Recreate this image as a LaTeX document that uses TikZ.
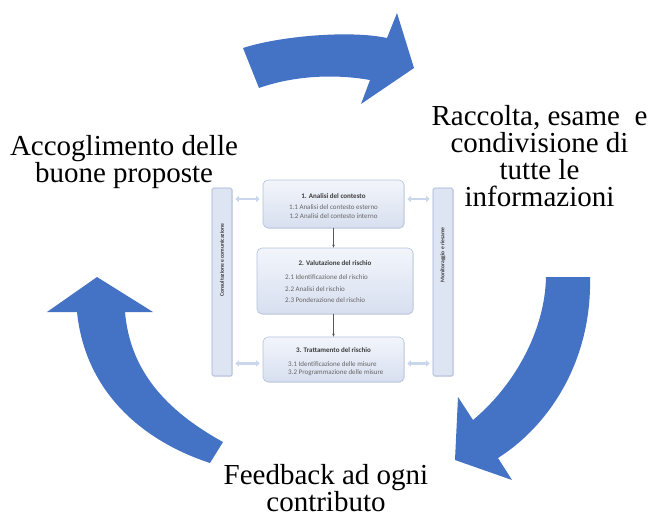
\documentclass[tikz,border=0pt]{standalone}
\usepackage{fontspec}
\setmainfont{Liberation Serif}
\newfontfamily\carlito{Carlito}
\usetikzlibrary{arrows.meta,calc,shadows}
\definecolor{arrowblue}{HTML}{4472C4}
\definecolor{boxtop}{HTML}{F2F5FB}
\definecolor{boxbot}{HTML}{D7DFEF}
\definecolor{boxedge}{HTML}{B3C2DD}
\definecolor{barfill}{HTML}{DDE4F2}
\definecolor{baredge}{HTML}{9DB0D3}
\definecolor{dblcol}{HTML}{C9D6EC}
\definecolor{titlegray}{HTML}{3C3C3C}
\definecolor{linegray}{HTML}{666666}
\begin{document}
\begin{tikzpicture}[x=1pt,y=-1pt,
  bluearrow/.style={fill=arrowblue, draw=none},
  mainlabel/.style={font=\fontsize{29}{27}\selectfont, align=center, inner sep=0pt, text=black},
  stagebox/.style={draw=boxedge, line width=0.6pt, rounded corners=5pt, top color=boxtop, bottom color=boxbot, inner sep=0pt,
    drop shadow={opacity=0.18, shadow xshift=0.8pt, shadow yshift=-0.8pt}},
  sidebar/.style={draw=baredge, line width=0.6pt, rounded corners=1.5pt, fill=barfill, inner sep=0pt,
    drop shadow={opacity=0.18, shadow xshift=0.8pt, shadow yshift=-0.8pt}},
  boxtitle/.style={font=\carlito\bfseries\fontsize{7}{8}\selectfont, text=titlegray, inner sep=0pt},
  boxline/.style={font=\carlito\fontsize{7}{8}\selectfont, text=linegray, inner sep=0pt},
  bartext/.style={font=\carlito\bfseries\fontsize{5.6}{6}\selectfont, text=titlegray, inner sep=0pt, rotate=90},
  steparrow/.style={draw=gray!70!black, line width=0.6pt, -{Stealth[length=3pt,width=2.6pt]}},
  dblarrow/.style={draw=dblcol, line width=2.2pt, {Triangle[length=3.5pt,width=6pt]}-{Triangle[length=3.5pt,width=6pt]}, shorten <=3pt, shorten >=3pt}
]
\useasboundingbox (0,0) rectangle (651,517);

% --- big curved arrows ---
\fill[bluearrow] (243,48) .. controls (280,36) and (350,30) .. (387,38)
  -- (397,13) -- (414,68) -- (361,104) -- (370,80)
  .. controls (330,73) and (290,77) .. (259,88) -- cycle;
\fill[bluearrow] (546,277) -- (590,277) .. controls (592,360) and (550,425) .. (498,458)
  -- (512,480) -- (455,460) -- (458,397) -- (473,420)
  .. controls (515,385) and (545,330) .. (546,277) -- cycle;
\fill[bluearrow] (223,442) .. controls (165,410) and (130,370) .. (125,312)
  -- (153,312) -- (97,277) -- (47,312) -- (77,312)
  .. controls (85,390) and (140,440) .. (210,463) -- cycle;

% --- labels ---
\node[mainlabel] (lblL) at (124,162.5) {Accoglimento delle\\buone proposte};
\node[mainlabel] (lblR) at (539.5,156.5) {Raccolta, esame\ \ e\\condivisione di\\tutte le\\informazioni};
\node[mainlabel] (lblB) at (326,488.5) {Feedback ad ogni\\contributo};

% --- central scheme ---
\node[sidebar, minimum width=20, minimum height=188] (lb) at (222,282) {};
\node[sidebar, minimum width=20, minimum height=188] (rb) at (443,282) {};
\node[bartext] (lbt) at ($(lb.center)+(0,-22)$) {Consultazione e comunicazione};
\node[bartext] (rbt) at ($(rb.center)+(0,-27)$) {Monitoraggio e riesame};

\node[stagebox, minimum width=141, minimum height=48] (b1) at (333.5,204) {};
\node[stagebox, minimum width=156, minimum height=66] (b2) at (335,281) {};
\node[stagebox, minimum width=141, minimum height=45] (b3) at (333.5,359.5) {};

\node[boxtitle] (t1) at (333.5,196) {1. Analisi del contesto};
\node[boxline] (l11) at (333.5,207) {1.1 Analisi del contesto esterno};
\node[boxline] (l12) at (333.5,216) {1.2 Analisi del contesto interno};

\node[boxtitle] (t2) at (335,263) {2. Valutazione del rischio};
\node[boxline, anchor=west] (l21) at (285,277) {2.1 Identificazione del rischio};
\node[boxline, anchor=west] (l22) at (285,289) {2.2 Analisi del rischio};
\node[boxline, anchor=west] (l23) at (285,300) {2.3 Ponderazione del rischio};

\node[boxtitle] (t3) at (333.5,350) {3. Trattamento del rischio};
\node[boxline, anchor=west] (l31) at (288,364) {3.1 Identificazione delle misure};
\node[boxline, anchor=west] (l32) at (288,373) {3.2 Programmazione delle misure};

\draw[steparrow] (b1.south) -- (b1.south |- b2.north);
\draw[steparrow] (b3.north |- b2.south) -- (b3.north);

\draw[dblarrow] ($(lb.east |- b1.west)+(0,-5)$) -- ($(b1.west)+(0,-5)$);
\draw[dblarrow] ($(lb.east |- b3.west)+(0,4)$) -- ($(b3.west)+(0,4)$);
\draw[dblarrow] ($(b1.east)+(0,-5)$) -- ($(rb.west |- b1.east)+(0,-5)$);
\draw[dblarrow] ($(b3.east)+(0,4)$) -- ($(rb.west |- b3.east)+(0,4)$);
\end{tikzpicture}
\end{document}
